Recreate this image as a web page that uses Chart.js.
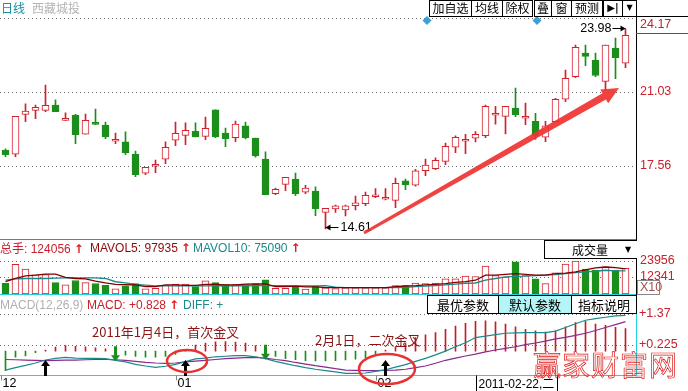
<!DOCTYPE html>
<html>
<head>
<meta charset="utf-8">
<script src="https://cdn.jsdelivr.net/npm/chart.js@4"></script>
<style>
html, body { margin: 0; padding: 0; background: #fff; }
#wrap { position: relative; width: 688px; height: 391px; overflow: hidden; font-family: "Liberation Sans", Arial, "Noto Sans CJK SC", sans-serif; }
canvas { position: absolute; left: 0; }
.t { position: absolute; white-space: nowrap; font-size: 12px; line-height: 14px; }
.cjk { font-family: "Noto Sans CJK SC", sans-serif; }
.btn { position: absolute; box-sizing: border-box; border: 1px solid #000; background: #fff; text-align: center;
       font-family: "Noto Sans CJK SC", sans-serif; font-size: 12px; line-height: 14px; color: #000; white-space: nowrap; }
.up { font-family: "DejaVu Sans", sans-serif; font-weight: bold; color: #e01c1c; margin-left: 3px; }
</style>
</head>
<body>
<div id="wrap">
  <canvas id="main" width="688" height="239" style="top:0"></canvas>
  <canvas id="vol" width="688" height="56" style="top:239px"></canvas>
  <canvas id="macd" width="688" height="96" style="top:295px"></canvas>

  <div class="t cjk" style="left:1px;top:1px;color:#1a8c9c">日线</div>
  <div class="t cjk" style="left:32px;top:1px;color:#b4b4b4">西藏城投</div>

  <div class="btn" style="left:429px;top:0;width:43px;height:17px">加自选</div>
  <div class="btn" style="left:471px;top:0;width:32px;height:17px">均线</div>
  <div class="btn" style="left:502px;top:0;width:31px;height:17px">除权</div>
  <div class="btn" style="left:534px;top:0;width:18px;height:17px">叠</div>
  <div class="btn" style="left:551px;top:0;width:21px;height:17px">窗</div>
  <div class="btn" style="left:571px;top:0;width:32px;height:17px">预测</div>
  <div class="btn" style="left:603px;top:0;width:20px;height:17px;font-family:'DejaVu Sans';font-weight:bold;font-size:10px">▶|</div>
  <div class="btn" style="left:622px;top:0;width:15px;height:17px;font-family:'DejaVu Sans';font-size:8px">▼</div>

  <div class="t" style="left:0;top:241px;color:#c8202c"><span class="cjk">总手</span>: 124056<span class="up">↑</span></div>
  <div class="t" style="left:90px;top:241px;color:#8c0a0a">MAVOL5: 97935<span class="up">↑</span></div>
  <div class="t" style="left:193px;top:241px;color:#1a8a8a">MAVOL10: 75090<span class="up">↑</span></div>
  <div class="btn" style="left:544px;top:240px;width:93px;height:19px;border-right:none">
    <span style="position:absolute;left:27px;top:1px;line-height:16px">成交量</span>
    <span style="position:absolute;left:80px;top:2px;line-height:14px;font-family:'DejaVu Sans';font-size:8px">▼</span>
  </div>

  <div class="t" style="left:0;top:298px;color:#b0b0b0">MACD(12,26,9)</div>
  <div class="t" style="left:87px;top:298px;color:#c8202c">MACD: +0.828<span class="up">↑</span></div>
  <div class="t" style="left:183px;top:298px;color:#1a8a8a">DIFF: +</div>
  <div class="btn" style="left:427px;top:295px;width:72px;height:19px;font-size:13px;line-height:17px">最优参数</div>
  <div class="btn" style="left:498px;top:295px;width:74px;height:19px;font-size:13px;line-height:17px;background:#b4f6f8">默认参数</div>
  <div class="btn" style="left:571px;top:295px;width:66px;height:19px;font-size:13px;line-height:17px">指标说明</div>

  <div class="t cjk" style="left:92px;top:323px;font-size:13px;line-height:18px;color:#8c1414">2011年1月4日，首次金叉</div>
  <div class="t cjk" style="left:315px;top:331px;font-size:13px;line-height:18px;color:#8c1414">2月1日，二次金叉</div>
  <div class="t cjk" style="left:533px;top:347px;font-size:28px;line-height:34px;letter-spacing:1px;color:transparent;-webkit-text-stroke:0.7px #e01818">赢家财富网</div>
  <div id="cursorDate" class="t" style="top:377px;line-height:14px;color:#000"></div>
</div>

<script>
// --- data ---
const dates = [
  '2010-12-09','2010-12-10','2010-12-13','2010-12-14','2010-12-15','2010-12-16','2010-12-17','2010-12-20','2010-12-21','2010-12-22',
  '2010-12-23','2010-12-24','2010-12-27','2010-12-28','2010-12-29','2010-12-30','2010-12-31',
  '2011-01-04','2011-01-05','2011-01-06','2011-01-07','2011-01-10','2011-01-11','2011-01-12','2011-01-13','2011-01-14',
  '2011-01-17','2011-01-18','2011-01-19','2011-01-20','2011-01-21','2011-01-24','2011-01-25','2011-01-26','2011-01-27',
  '2011-01-28','2011-01-31',
  '2011-02-01','2011-02-09','2011-02-10','2011-02-11','2011-02-14','2011-02-15','2011-02-16','2011-02-17','2011-02-18',
  '2011-02-21','2011-02-22','2011-02-23','2011-02-24','2011-02-25','2011-02-28',
  '2011-03-01','2011-03-02','2011-03-03','2011-03-04','2011-03-07','2011-03-08','2011-03-09','2011-03-10','2011-03-11',
  '2011-03-14','2011-03-15'
];
const openP = [18.31,18.11,19.98,20.17,20.17,20.42,19.70,19.95,19.05,19.53,
  19.48,18.72,18.69,18.12,17.22,17.55,17.88,18.77,19.00,19.19,
  18.95,20.19,19.11,18.89,19.44,18.87,17.89,16.26,16.70,16.95,
  16.33,16.39,15.39,15.55,15.50,15.70,15.80,16.12,16.00,15.95,
  16.86,16.66,17.34,17.44,17.78,18.44,18.72,18.86,18.98,19.94,
  19.89,20.28,19.80,19.66,18.91,19.64,20.70,21.75,22.86,22.53,
  21.53,23.09,22.38];
const highP = [18.36,19.89,20.47,20.42,21.36,20.66,20.05,19.98,20.00,20.23,
  19.62,19.11,19.16,18.26,17.50,17.84,18.69,19.62,19.58,19.58,
  19.86,20.19,19.34,19.67,19.62,18.87,18.22,16.53,17.03,17.23,
  16.66,16.58,15.58,15.73,15.73,16.15,16.34,16.50,16.50,17.00,
  16.95,17.41,17.89,17.94,18.64,18.97,19.05,19.17,20.42,20.36,
  20.36,21.22,20.51,20.03,19.66,20.73,22.06,23.23,23.23,22.86,
  23.23,23.56,23.98];
const lowP = [18.00,18.00,19.64,19.78,20.11,20.11,19.70,18.61,19.05,19.51,
  18.84,18.61,18.09,17.06,17.15,17.25,17.67,18.51,18.56,18.93,
  18.79,18.89,18.47,18.70,18.83,17.98,16.22,16.22,16.40,16.17,
  16.26,15.23,14.61,15.39,15.22,15.50,15.70,16.08,15.97,15.61,
  16.45,16.61,17.11,17.39,17.62,18.19,18.14,18.69,18.89,19.52,
  19.06,19.87,19.50,18.81,18.70,19.64,20.58,21.70,22.26,21.75,
  21.12,21.65,22.17];
const closeP = [18.09,19.89,20.13,20.31,20.41,20.11,19.80,19.03,19.70,19.51,
  18.93,18.81,18.19,17.15,17.50,17.64,18.44,19.09,19.23,18.93,
  19.33,18.92,18.84,19.53,18.89,18.03,16.22,16.47,17.03,16.26,
  16.52,15.56,15.58,15.69,15.69,15.83,16.19,16.19,16.02,16.75,
  16.69,17.33,17.60,17.83,18.48,18.91,18.78,19.05,20.36,19.96,
  20.36,19.97,19.89,19.00,19.45,20.69,21.67,23.12,22.70,21.81,
  23.23,22.64,23.69];

const volume = [7700,21500,18000,13900,14100,8200,6600,9800,8200,7600,
  6300,3800,5600,7480,3800,4100,6500,7000,7200,5300,
  9500,8200,6800,6900,6900,7300,10330,4100,4100,5000,
  3500,5800,4400,3920,4400,4400,4400,4400,4400,6060,
  6060,7980,7480,7980,11050,11050,12970,12700,20300,13440,
  12270,23400,13440,11050,7480,15320,21700,23900,18170,17400,
  19800,17400,18650];
const mavol5 = [8900,11260,13180,13680,14390,14390,12000,11260,11000,9400,
  8000,6980,6700,6560,5340,5340,6560,6560,6300,6300,
  7000,7000,6560,6560,7200,7270,7270,5340,5340,5700,
  5100,5100,4630,4630,4630,4630,4630,4630,4630,5340,
  5800,6060,6560,7000,7600,8500,9000,10000,13680,13680,
  14300,14800,14300,13680,13680,14800,15200,16000,17500,19000,
  19600,19200,18300];
const mavol10 = [10120,11000,11260,11260,11260,11500,11760,11760,11760,11760,
  11260,8900,8000,6980,6400,5840,5840,5840,5840,5840,
  5840,6000,6000,6000,6000,6100,6100,6100,6100,5900,
  5840,5840,6060,5000,4630,4630,4630,4630,4630,4630,
  4900,5340,5700,6060,6560,7200,7800,8000,10120,11260,
  12470,12800,13000,13400,13680,14000,14820,15530,16000,16500,
  17250,16800,16800];

const diff = [-0.70,-0.61,-0.53,-0.44,-0.33,-0.27,-0.23,-0.26,-0.27,-0.27,
  -0.28,-0.34,-0.40,-0.49,-0.55,-0.60,-0.56,-0.49,-0.39,-0.29,
  -0.26,-0.21,-0.19,-0.17,-0.17,-0.21,-0.28,-0.38,-0.46,-0.54,
  -0.61,-0.67,-0.72,-0.77,-0.82,-0.82,-0.81,-0.75,-0.69,-0.59,
  -0.50,-0.38,-0.27,-0.14,0.00,0.16,0.31,0.50,0.55,0.61,
  0.66,0.67,0.68,0.68,0.68,0.74,0.87,1.01,1.14,1.20,
  1.25,1.30,1.32];
const dea = [-0.31,-0.32,-0.33,-0.34,-0.35,-0.34,-0.33,-0.33,-0.32,-0.31,
  -0.31,-0.32,-0.34,-0.38,-0.42,-0.44,-0.45,-0.44,-0.40,-0.37,
  -0.34,-0.31,-0.28,-0.26,-0.24,-0.23,-0.26,-0.31,-0.35,-0.42,
  -0.48,-0.54,-0.59,-0.65,-0.70,-0.71,-0.72,-0.72,-0.71,-0.70,
  -0.67,-0.61,-0.55,-0.45,-0.34,-0.26,-0.18,-0.11,-0.03,0.04,
  0.10,0.16,0.24,0.30,0.37,0.45,0.51,0.58,0.66,0.76,
  0.87,0.98,1.09];
const macdBar = [-0.72,-0.22,-0.18,-0.06,0.04,0.15,0.20,0.18,0.16,0.12,
  0.08,-0.03,-0.15,-0.20,-0.22,-0.22,-0.20,-0.12,0.05,0.22,
  0.30,0.34,0.35,0.33,0.30,0.20,-0.04,-0.20,-0.28,-0.32,
  -0.35,-0.36,-0.36,-0.35,-0.33,-0.30,-0.25,-0.15,0.04,0.15,
  0.30,0.50,0.60,0.68,0.80,0.92,1.03,1.10,1.12,1.08,
  1.00,0.90,0.80,0.75,0.70,0.75,0.90,1.05,1.10,1.00,
  0.95,0.88,0.83];

const priceTicks = [24.17, 21.03, 17.56];
const priceGrid = [21.03, 17.56];
const volTicks = [23956, 12341];
const macdTicks = [1.37, 0.225];
const macdTickText = ['+1.37', '+0.225'];
const monthTickIdx = [0, 17, 37];
const monthTickText = ['12', '01', '02'];
const goldenCross = [4, 18, 38];
const deadCross = [11, 26];
const infoMarks = [42, 53];
const cursorIndex = 47;
const cursorWeekday = '二';

// --- styling ---
const AXIS_X = 636.5;
const UP = '#d2202c', DOWN = '#1c8e1c', LABEL_RED = '#c8202c';
const isUp = closeP.map((c, i) => c >= openP[i]);
const NUM_FONT = '12.5px "Liberation Sans", Arial, sans-serif';

function line(ctx, x0, y0, x1, y1, color, dash) {
    ctx.save();
    ctx.strokeStyle = color;
    ctx.lineWidth = 1;
    if (dash) ctx.setLineDash(dash);
    ctx.beginPath();
    ctx.moveTo(x0, y0);
    ctx.lineTo(x1, y1);
    ctx.stroke();
    ctx.restore();
}
function dotted(ctx, y) {
    const yy = Math.round(y) + 0.5;
    line(ctx, 0, yy, AXIS_X, yy, '#6a6a6a', [1, 3]);
}
function label(ctx, text, x, y, color, align) {
    ctx.save();
    ctx.font = NUM_FONT;
    ctx.fillStyle = color;
    ctx.textAlign = align || 'left';
    ctx.textBaseline = 'middle';
    ctx.fillText(text, x, y);
    ctx.restore();
}
function upDownArrow(ctx, x, tipY, len, dir, color) {
    // dir = -1 points up, +1 points down
    ctx.save();
    ctx.fillStyle = color;
    const head = 6, hw = 4.5, sw = 1.5;
    const baseY = tipY - dir * head;
    ctx.beginPath();
    ctx.moveTo(x, tipY);
    ctx.lineTo(x + hw, baseY);
    ctx.lineTo(x + sw, baseY);
    ctx.lineTo(x + sw, tipY - dir * len);
    ctx.lineTo(x - sw, tipY - dir * len);
    ctx.lineTo(x - sw, baseY);
    ctx.lineTo(x - hw, baseY);
    ctx.closePath();
    ctx.fill();
    ctx.restore();
}
function fatArrow(ctx, x0, y0, x1, y1) {
    const dx = x1 - x0, dy = y1 - y0, L = Math.hypot(dx, dy);
    const ux = dx / L, uy = dy / L, nx = -uy, ny = ux;
    const headLen = 17, headHalf = 8, s0 = 1.5, s1 = 3.5;
    const bx = x1 - ux * headLen, by = y1 - uy * headLen;
    ctx.save();
    ctx.fillStyle = 'rgba(240,50,50,0.92)';
    ctx.beginPath();
    ctx.moveTo(x0 + nx * s0, y0 + ny * s0);
    ctx.lineTo(bx + nx * s1, by + ny * s1);
    ctx.lineTo(bx + nx * headHalf, by + ny * headHalf);
    ctx.lineTo(x1, y1);
    ctx.lineTo(bx - nx * headHalf, by - ny * headHalf);
    ctx.lineTo(bx - nx * s1, by - ny * s1);
    ctx.lineTo(x0 - nx * s0, y0 - ny * s0);
    ctx.closePath();
    ctx.fill();
    ctx.restore();
}

const common = {
    responsive: false,
    animation: false,
    events: [],
    plugins: { legend: { display: false }, tooltip: { enabled: false } }
};

// --- price panel ---
const mainDeco = {
    id: 'mainDeco',
    beforeDatasetsDraw(c) {
        const { ctx, chartArea: a, scales: { y } } = c;
        dotted(ctx, a.top);
        priceGrid.forEach(v => dotted(ctx, y.getPixelForValue(v)));
    },
    afterDraw(c) {
        const { ctx, scales: { x, y } } = c;
        line(ctx, AXIS_X, 16, AXIS_X, 239, '#000');
        line(ctx, 636, 16.5, 688, 16.5, '#000');
        line(ctx, 636, 33.5, 688, 33.5, '#555');
        // partly hidden top label
        ctx.save();
        ctx.beginPath(); ctx.rect(636, 12, 52, 4); ctx.clip();
        label(ctx, y.max.toFixed(2), 640, 9, LABEL_RED);
        ctx.restore();
        priceTicks.forEach(v => label(ctx, v.toFixed(2), 640, y.getPixelForValue(v), LABEL_RED));

        // highest / lowest markers
        const hi = highP.indexOf(Math.max(...highP));
        const lo = lowP.indexOf(Math.min(...lowP));
        const hx = x.getPixelForValue(hi), hy = Math.round(y.getPixelForValue(highP[hi])) - 0.5;
        line(ctx, hx - 13, hy, hx, hy, '#000');
        ctx.beginPath(); ctx.moveTo(hx, hy); ctx.lineTo(hx - 5, hy - 3); ctx.lineTo(hx - 5, hy + 3); ctx.fillStyle = '#000'; ctx.fill();
        label(ctx, highP[hi].toFixed(2), hx - 14, hy, '#000', 'right');
        const lx = x.getPixelForValue(lo), ly = Math.round(y.getPixelForValue(lowP[lo])) - 1.5;
        line(ctx, lx, ly, lx + 13, ly, '#000');
        ctx.beginPath(); ctx.moveTo(lx, ly); ctx.lineTo(lx + 5, ly - 3); ctx.lineTo(lx + 5, ly + 3); ctx.fillStyle = '#000'; ctx.fill();
        label(ctx, lowP[lo].toFixed(2), lx + 15, ly, '#000');

        // info diamonds
        ctx.fillStyle = '#3aa0d6';
        infoMarks.forEach(i => {
            const px = x.getPixelForValue(i) + 1.5, py = 20.5;
            ctx.beginPath();
            ctx.moveTo(px, py - 4.5); ctx.lineTo(px + 4.5, py); ctx.lineTo(px, py + 4.5); ctx.lineTo(px - 4.5, py);
            ctx.closePath(); ctx.fill();
        });

        // trend arrow
        fatArrow(ctx, 364, 233, 619, 88);
    }
};

new Chart(document.getElementById('main'), {
    type: 'bar',
    data: {
        labels: dates,
        datasets: [
            {
                data: lowP.map((l, i) => [l, highP[i]]),
                backgroundColor: isUp.map(u => u ? UP : DOWN),
                barThickness: 1, grouped: false, order: 2
            },
            {
                data: openP.map((o, i) => [o, closeP[i]]),
                backgroundColor: isUp.map(u => u ? '#ffffff' : DOWN),
                borderColor: isUp.map(u => u ? UP : DOWN),
                borderWidth: 1, borderSkipped: false, minBarLength: 2,
                barThickness: 7, grouped: false, order: 1
            }
        ]
    },
    options: {
        ...common,
        layout: { padding: { left: 0.5, right: 57.5, top: 18, bottom: 1 } },
        scales: {
            x: { display: false, offset: true },
            y: { display: false, min: 14.185, max: 24.50 }
        }
    },
    plugins: [mainDeco]
});

// --- volume panel ---
const volDeco = {
    id: 'volDeco',
    beforeDatasetsDraw(c) {
        const { ctx, scales: { y } } = c;
        volTicks.forEach(v => dotted(ctx, y.getPixelForValue(v)));
    },
    afterDraw(c) {
        const { ctx, chartArea: a, scales: { y } } = c;
        line(ctx, 0, 0.5, 636, 0.5, '#7a7a7a');
        line(ctx, 0, a.bottom + 0.5, AXIS_X, a.bottom + 0.5, '#22d0e0');
        line(ctx, AXIS_X, 0, AXIS_X, 56, '#000');
        volTicks.forEach(v => label(ctx, String(v), 640, y.getPixelForValue(v), LABEL_RED));
        ctx.strokeStyle = '#888';
        ctx.strokeRect(637.5, 41.5, 22, 14);
        label(ctx, 'X10', 640, 49, '#a05050');
    }
};

new Chart(document.getElementById('vol'), {
    type: 'bar',
    data: {
        labels: dates,
        datasets: [
            {
                type: 'line', data: mavol5, borderColor: '#800000', borderWidth: 1.3,
                pointRadius: 0, tension: 0, order: 0
            },
            {
                type: 'line', data: mavol10, borderColor: '#1a8a8a', borderWidth: 1.3,
                pointRadius: 0, tension: 0, order: 0
            },
            {
                data: volume,
                backgroundColor: isUp.map(u => u ? '#ffffff' : DOWN),
                borderColor: isUp.map(u => u ? UP : DOWN),
                borderWidth: 1, borderSkipped: false, barThickness: 7, order: 1
            }
        ]
    },
    options: {
        ...common,
        layout: { padding: { left: 0.5, right: 57.5, top: 17, bottom: 1 } },
        scales: {
            x: { display: false, offset: true },
            y: { display: false, min: 0, max: 27586 }
        }
    },
    plugins: [volDeco]
});

// --- MACD panel with date axis ---
const macdDeco = {
    id: 'macdDeco',
    beforeDatasetsDraw(c) {
        const { ctx, scales: { y } } = c;
        macdTicks.forEach(v => dotted(ctx, y.getPixelForValue(v)));
    },
    afterDraw(c) {
        const { ctx, chartArea: a, scales: { x, y } } = c;
        const bot = a.bottom + 0.5;
        line(ctx, 0, bot, AXIS_X, bot, '#22d0e0');
        line(ctx, AXIS_X, 0, AXIS_X, bot, '#22d0e0');
        macdTicks.forEach((v, k) => label(ctx, macdTickText[k], 639, y.getPixelForValue(v), LABEL_RED));

        // month ticks
        monthTickIdx.forEach((i, k) => {
            const px = i === 0 ? 1.5 : Math.round(x.getPixelForValue(i)) + 0.5;
            line(ctx, px, bot, px, bot + 5, '#888');
            label(ctx, monthTickText[k], px + 1, 89, '#000');
        });
        // cursor date box
        const cx = Math.round(x.getPixelForValue(cursorIndex)) + 0.5;
        line(ctx, cx, bot, cx, 96, '#000');
        line(ctx, cx + 81, bot, cx + 81, 96, '#000');
        const box = document.getElementById('cursorDate');
        box.style.left = (cx + 2) + 'px';
        box.textContent = dates[cursorIndex] + ',' + cursorWeekday;

        // cross arrows
        goldenCross.forEach(i => {
            const px = x.getPixelForValue(i);
            const tip = Math.min(y.getPixelForValue(diff[i]) + 1, a.bottom - 15);
            upDownArrow(ctx, px, tip, 16, -1, '#000');
        });
        deadCross.forEach(i => {
            const px = x.getPixelForValue(i);
            const tip = y.getPixelForValue(diff[i]) + 1;
            upDownArrow(ctx, px, tip, 15, 1, '#1c8e1c');
        });

        // highlight circles
        ctx.save();
        ctx.strokeStyle = '#e83232';
        ctx.lineWidth = 2.5;
        const c1 = x.getPixelForValue(goldenCross[1]) + 1.5;
        ctx.beginPath(); ctx.ellipse(c1, 66, 20, 11, 0, 0, Math.PI * 2); ctx.stroke();
        const c2 = x.getPixelForValue(goldenCross[2]) + 1.5;
        ctx.beginPath(); ctx.ellipse(c2, 74, 28, 15, 0, 0, Math.PI * 2); ctx.stroke();
        ctx.restore();
    }
};

new Chart(document.getElementById('macd'), {
    type: 'bar',
    data: {
        labels: dates,
        datasets: [
            {
                type: 'line', data: diff, borderColor: '#1a8a8a', borderWidth: 1.2,
                pointRadius: 0, tension: 0, order: 0
            },
            {
                type: 'line', data: dea, borderColor: '#8c288c', borderWidth: 1.2,
                pointRadius: 0, tension: 0, order: 0
            },
            {
                data: macdBar,
                backgroundColor: macdBar.map(v => v >= 0 ? '#c01e28' : '#1c8e1c'),
                barThickness: 1, order: 1
            }
        ]
    },
    options: {
        ...common,
        layout: { padding: { left: 0.5, right: 57.5, top: 1, bottom: 16 } },
        scales: {
            x: { display: false, offset: true },
            y: { display: false, min: -0.883, max: 2.035 }
        }
    },
    plugins: [macdDeco]
});
</script>
</body>
</html>
